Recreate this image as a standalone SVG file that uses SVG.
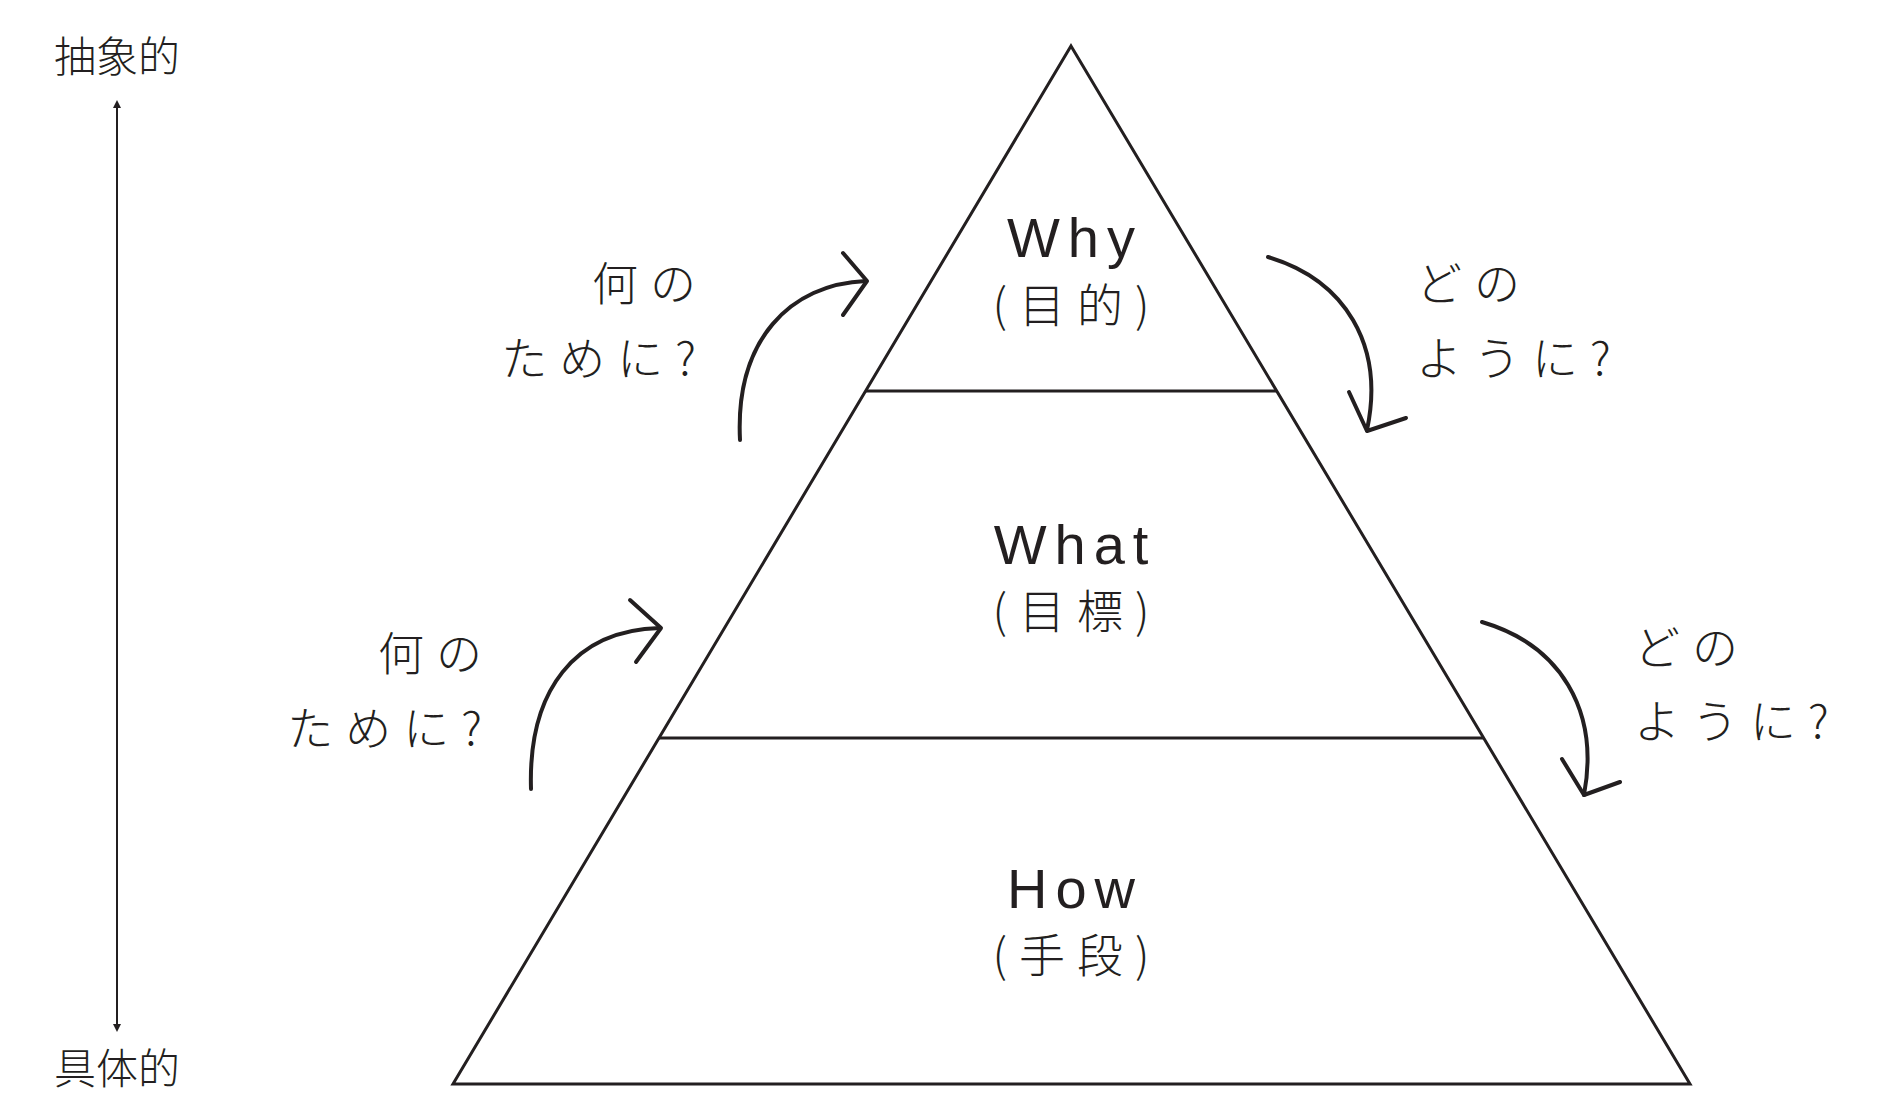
<svg xmlns="http://www.w3.org/2000/svg" width="1879" height="1096" viewBox="0 0 1879 1096">
<style>
.ln{fill:none;stroke:#231f20;stroke-width:3}
.ar{fill:none;stroke:#231f20;stroke-width:4;stroke-linecap:round;stroke-linejoin:round}
.en{font-family:"Liberation Sans",Arial,sans-serif;font-size:56px;fill:#231f20;letter-spacing:8px}
.jp{font-family:"Noto Sans CJK JP",sans-serif;font-size:46px;fill:#231f20;font-weight:300;letter-spacing:12px}
.ax{font-family:"Noto Sans CJK JP",sans-serif;font-size:42px;fill:#231f20;font-weight:300}
</style>
<defs>
<marker id="tri" viewBox="0 0 10 10" refX="5" refY="5" markerWidth="4" markerHeight="4" orient="auto-start-reverse"><path d="M0,0L10,5L0,10z" fill="#231f20"/></marker>
</defs>
<g id="pyramid">
<path class="ln" d="M1071,46 L1690,1084 L453,1084 Z"/>
<line class="ln" x1="865" y1="391" x2="1277" y2="391"/>
<line class="ln" x1="659" y1="738" x2="1483" y2="738"/>
</g>
<g id="why"><text class="en" x="1075" y="257" text-anchor="middle">Why</text><text class="jp" x="1077" y="322" text-anchor="middle">(目的)</text></g>
<g id="what"><text class="en" x="1075" y="564" text-anchor="middle">What</text><text class="jp" x="1077" y="628" text-anchor="middle">(目標)</text></g>
<g id="how"><text class="en" x="1075" y="908" text-anchor="middle">How</text><text class="jp" x="1077" y="972" text-anchor="middle">(手段)</text></g>
<g id="axis">
<text class="ax" x="117" y="72" text-anchor="middle">抽象的</text>
<text class="ax" x="117" y="1084" text-anchor="middle">具体的</text>
</g>
<g id="labels">
<text class="jp" x="708" y="300" text-anchor="end">何の</text>
<text class="jp" x="708" y="375" text-anchor="end">ために?</text>
<text class="jp" x="494" y="670" text-anchor="end">何の</text>
<text class="jp" x="494" y="745" text-anchor="end">ために?</text>
<text class="jp" x="1416" y="300">どの</text>
<text class="jp" x="1416" y="375">ように?</text>
<text class="jp" x="1634" y="664">どの</text>
<text class="jp" x="1634" y="738">ように?</text>
</g>
<g id="connectors">
<line x1="117" y1="104" x2="117" y2="1028" stroke="#231f20" stroke-width="2" marker-start="url(#tri)" marker-end="url(#tri)"/>
<path class="ar" d="M740,440 C735,340 790,284 866,281"/>
<path class="ar" d="M843,253 L867,281 L843,315"/>
<path class="ar" d="M531,789 C528,690 575,630 660,628"/>
<path class="ar" d="M630,600 L661,628 L636,662"/>
<path class="ar" d="M1268,257 C1345,280 1385,345 1367,430"/>
<path class="ar" d="M1349,392 L1367,431 L1406,418"/>
<path class="ar" d="M1482,622 C1560,645 1600,710 1584,795"/>
<path class="ar" d="M1562,759 L1584,795 L1620,782"/>
</g>
</svg>
